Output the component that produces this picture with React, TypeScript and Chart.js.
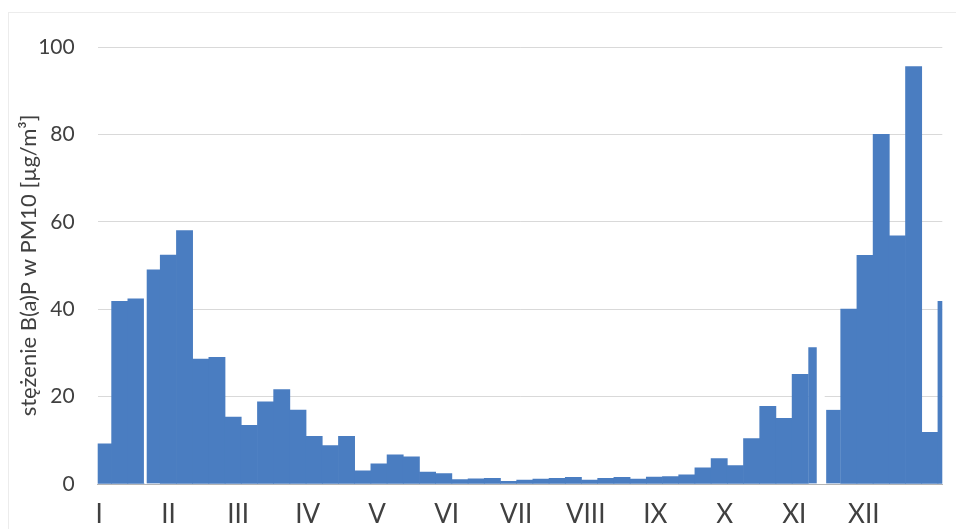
import { useEffect, useRef } from 'react';
import { Chart, registerables } from 'chart.js';

Chart.register(...registerables);

// Month tick labels (Roman numerals) shown under the chart
const MONTH_LABELS = ['I', 'II', 'III', 'IV', 'V', 'VI', 'VII', 'VIII', 'IX', 'X', 'XI', 'XII'];

// Weekly mean B(a)P concentration in PM10, week 1 .. 53
const WEEKLY_BAP = [
  9.2, 41.8, 42.4, 49.1, 52.4, 58.0, 28.6, 29.0, 15.3, 13.4,
  18.8, 21.6, 16.9, 10.9, 8.8, 10.9, 3.0, 4.6, 6.7, 6.2,
  2.7, 2.4, 1.0, 1.2, 1.3, 0.6, 0.9, 1.1, 1.3, 1.5,
  0.9, 1.3, 1.5, 1.1, 1.6, 1.7, 2.1, 3.7, 5.8, 4.2,
  10.4, 17.8, 15.0, 25.1, 31.3, 17.0, 40.0, 52.3, 80.0, 56.8,
  95.5, 11.8, 41.8,
];

// Y axis ticks
const Y_TICKS = [0, 20, 40, 60, 80, 100];

const Y_TITLE = 'stężenie B(a)P w PM10 [µg/m³]';

// Style only: weeks with incomplete coverage show a white slit (px) on one side
const PARTIAL_WEEK_GAPS: Record<number, { left?: number; right?: number }> = {
  3: { left: 3 },
  44: { right: 9 },
  45: { left: 2 },
};

const TEXT = '#404040';
const BAR = '#4a7dc1';
const FONT = 'Lato, "Open Sans", sans-serif';
const X_FONT = '"Liberation Sans Narrow", Lato, sans-serif';

export default function App() {
  const ref = useRef<HTMLCanvasElement | null>(null);

  useEffect(() => {
    if (!ref.current) return;
    const chart = new Chart(ref.current, {
      type: 'bar',
      data: {
        datasets: [
          {
            data: WEEKLY_BAP.map((v, i) => ({ x: i + 0.5, y: v })),
            backgroundColor: BAR,
            borderColor: '#ffffff',
            borderWidth: (c: any) => {
              const g = PARTIAL_WEEK_GAPS[c.dataIndex];
              return g ? { top: 0, bottom: 0, left: g.left ?? 0, right: g.right ?? 0 } : 0;
            },
            borderSkipped: false,
            barPercentage: 1,
            categoryPercentage: 1,
            xAxisID: 'x',
            yAxisID: 'y',
          } as any,
        ],
      },
      options: {
        animation: false,
        responsive: true,
        maintainAspectRatio: false,
        layout: { padding: { left: 0, right: 13.7, top: 47, bottom: 0 } },
        plugins: {
          legend: { display: false },
          tooltip: { enabled: false },
        },
        scales: {
          x: {
            type: 'linear',
            display: false,
            min: 0.14,
            max: 52.27,
            offset: false,
          },
          xm: {
            type: 'linear',
            position: 'bottom',
            min: -0.02,
            max: 12.13,
            offset: false,
            grid: { display: false, drawTicks: false, offset: false },
            border: { display: true, color: '#b4b4b4', width: 1 },
            afterBuildTicks: (s: any) => {
              s.ticks = MONTH_LABELS.map((_, i) => ({ value: i }));
            },
            afterFit: (s: any) => {
              s.height = 45;
            },
            ticks: {
              autoSkip: false,
              maxRotation: 0,
              minRotation: 0,
              padding: 15,
              color: TEXT,
              font: { family: X_FONT, size: 26 },
              callback: (v: any) => MONTH_LABELS[Math.round(Number(v))] ?? '',
            },
          },
          y: {
            type: 'linear',
            min: 0,
            max: 100,
            afterBuildTicks: (s: any) => {
              s.ticks = Y_TICKS.map((v) => ({ value: v }));
            },
            afterFit: (s: any) => {
              s.width = 97.7;
            },
            grid: { color: '#d9d9d9', lineWidth: 1, drawTicks: false },
            border: { display: false },
            ticks: {
              padding: 23,
              color: TEXT,
              font: { family: FONT, size: 21 },
            },
            title: {
              display: true,
              text: Y_TITLE,
              color: TEXT,
              font: { family: FONT, size: 22 },
              padding: { top: 16, bottom: 0 },
            },
          },
        } as any,
      },
    });
    return () => chart.destroy();
  }, []);

  return (
    <div
      style={{
        position: 'absolute',
        left: 0,
        top: 0,
        width: 956,
        height: 529,
        background: '#ffffff',
        overflow: 'hidden',
      }}
    >
      <canvas ref={ref} />
      <div
        style={{
          position: 'absolute',
          left: 8,
          top: 12,
          right: -2,
          bottom: -2,
          borderLeft: '1px solid #ececec',
          borderTop: '1px solid #ececec',
          pointerEvents: 'none',
        }}
      />
    </div>
  );
}
